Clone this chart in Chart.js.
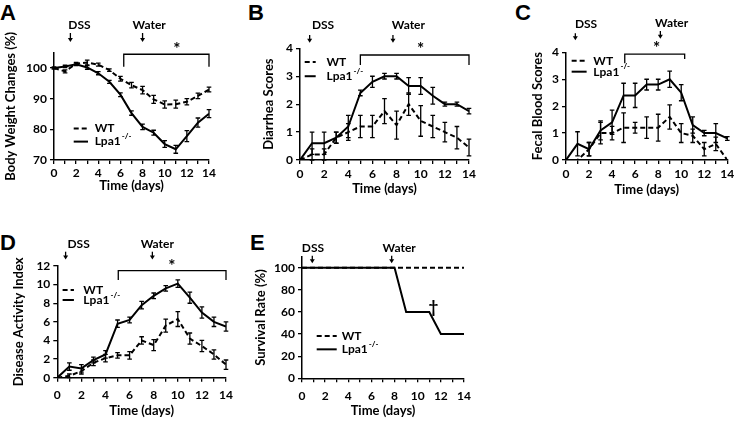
<!DOCTYPE html>
<html>
<head>
<meta charset="utf-8">
<script src="https://cdn.jsdelivr.net/npm/chart.js@4.4.1/dist/chart.umd.min.js"></script>
<style>
  html, body { margin: 0; padding: 0; background: #fff; width: 738px; height: 421px; overflow: hidden; position: relative; }
  canvas { position: absolute; }
  .tag { position: absolute; font: bold 22px "Liberation Sans", Arial, sans-serif; line-height: 22px; color: #000; }
</style>
</head>
<body>
<div class="tag" style="left:0px;top:2px">A</div>
<div class="tag" style="left:248px;top:2px">B</div>
<div class="tag" style="left:515px;top:2px">C</div>
<div class="tag" style="left:0px;top:232px">D</div>
<div class="tag" style="left:250px;top:232px">E</div>

<canvas id="panelA" width="225" height="197" style="left:0px;top:0px"></canvas>
<canvas id="panelB" width="227" height="200" style="left:258px;top:0px"></canvas>
<canvas id="panelC" width="211" height="201" style="left:527px;top:0px"></canvas>
<canvas id="panelD" width="234" height="212" style="left:8px;top:210px"></canvas>
<canvas id="panelE" width="230" height="212" style="left:250px;top:210px"></canvas>

<script>
// days of the experiment
const days = [0, 1, 2, 3, 4, 5, 6, 7, 8, 9, 10, 11, 12, 13, 14];

// A - body weight changes (%)
const wtWeight     = [100, 98.9, 101.4, 101.8, 101.1, 99.3, 96.5, 94.4, 92.8, 89.8, 88.1, 88.2, 89.0, 90.9, 93.0];
const wtWeightErr  = [0.3, 0.5, 0.4, 0.8, 0.5, 0.4, 0.8, 0.9, 1.2, 1.3, 1.2, 1.3, 1.0, 0.9, 0.8];
const lpaWeight    = [100, 100.5, 101.2, 100.2, 98.3, 95.5, 91.3, 85.3, 80.8, 78.9, 75.2, 73.5, 77.8, 82.2, 85.1];
const lpaWeightErr = [0.3, 0.4, 0.4, 0.6, 0.5, 0.5, 0.6, 0.7, 0.9, 0.8, 1.1, 1.3, 1.8, 1.5, 1.3];

// B - diarrhea scores
const wtDiarrhea     = [0, 0.2, 0.2, 0.8, 1.0, 1.2, 1.2, 1.75, 1.25, 2.0, 1.4, 1.2, 1.0, 0.8, 0.45];
const wtDiarrheaErr  = [0, 0.2, 0.2, 0.2, 0.3, 0.4, 0.4, 0.45, 0.5, 0.4, 0.55, 0.4, 0.35, 0.4, 0.3];
const lpaDiarrhea    = [0, 0.6, 0.6, 0.8, 1.2, 2.4, 2.8, 3.0, 3.0, 2.65, 2.65, 2.3, 2.0, 2.0, 1.75];
const lpaDiarrheaErr = [0, 0.4, 0.4, 0.2, 0.4, 0.1, 0.2, 0.1, 0.1, 0.3, 0.3, 0.3, 0.07, 0.07, 0.1];

// C - fecal blood scores
const wtBlood     = [0, 0, 0.4, 1.0, 1.0, 1.2, 1.2, 1.2, 1.2, 1.6, 1.0, 0.9, 0.4, 0.6, 0];
const wtBloodErr  = [0, 0, 0.25, 0.4, 0.25, 0.55, 0.2, 0.4, 0.5, 0.45, 0.35, 0.25, 0.25, 0.25, 0];
const lpaBlood    = [0, 0.6, 0.4, 1.1, 1.4, 2.4, 2.4, 2.8, 2.8, 3.0, 2.5, 1.3, 1.0, 1.0, 0.8];
const lpaBloodErr = [0, 0.45, 0.25, 0.35, 0.45, 0.45, 0.45, 0.2, 0.2, 0.3, 0.3, 0.3, 0.1, 0.35, 0.07];

// D - disease activity index
const wtDai     = [0, 0.2, 0.7, 1.6, 2.1, 2.4, 2.4, 4.0, 3.5, 5.6, 6.3, 4.2, 3.4, 2.5, 1.4];
const wtDaiErr  = [0, 0.2, 0.3, 0.3, 0.4, 0.3, 0.4, 0.4, 0.6, 0.7, 0.8, 0.6, 0.6, 0.5, 0.5];
const lpaDai    = [0, 1.2, 1.0, 1.9, 2.5, 5.8, 6.2, 7.8, 8.8, 9.6, 10.1, 8.6, 7.0, 6.0, 5.5];
const lpaDaiErr = [0, 0.4, 0.4, 0.3, 0.4, 0.4, 0.3, 0.4, 0.3, 0.3, 0.4, 0.6, 0.6, 0.5, 0.5];

// E - survival rate (%)
const wtSurvival  = [100, 100, 100, 100, 100, 100, 100, 100, 100, 100, 100, 100, 100, 100, 100];
const lpaSurvival = [100, 100, 100, 100, 100, 100, 100, 100, 100, 60, 60, 60, 40, 40, 40];

const FONT = 'Lato, "Open Sans", sans-serif';
const DASH = [5, 3];

function drawArrow(ctx, x, y1, y2) {
  ctx.beginPath();
  ctx.moveTo(x, y1);
  ctx.lineTo(x, y2 - 3);
  ctx.stroke();
  ctx.beginPath();
  ctx.moveTo(x - 2.5, y2 - 4);
  ctx.lineTo(x + 2.5, y2 - 4);
  ctx.lineTo(x, y2);
  ctx.closePath();
  ctx.fill();
}

function makePanel(id, p) {
  const decor = {
    id: 'decor',
    afterDatasetsDraw(chart) {
      const { ctx, scales: { x, y } } = chart;
      ctx.save();
      ctx.strokeStyle = '#000';
      ctx.lineWidth = 1.3;
      (p.errors || []).forEach(s => {
        s.mean.forEach((m, i) => {
          const e = s.err[i];
          if (!e) return;
          const px = x.getPixelForValue(days[i]);
          const t = y.getPixelForValue(m + e);
          const b = y.getPixelForValue(m - e);
          ctx.beginPath();
          ctx.moveTo(px, t); ctx.lineTo(px, b);
          ctx.moveTo(px - 2.3, t); ctx.lineTo(px + 2.3, t);
          ctx.moveTo(px - 2.3, b); ctx.lineTo(px + 2.3, b);
          ctx.stroke();
        });
      });
      ctx.restore();
    },
    afterDraw(chart) {
      const { ctx, chartArea, scales: { x, y } } = chart;
      ctx.save();
      ctx.fillStyle = '#000';
      ctx.strokeStyle = '#000';
      ctx.lineWidth = 1.3;

      // treatment arrows
      ctx.font = 'bold 12px ' + FONT;
      ctx.textAlign = 'center';
      ctx.textBaseline = 'middle';
      p.arrows.forEach(a => {
        ctx.fillText(a.label, x.getPixelForValue(a.textX), chartArea.top + a.textY);
        drawArrow(ctx, x.getPixelForValue(a.x), chartArea.top + a.y1, chartArea.top + a.y2);
      });

      // significance bracket
      if (p.bracket) {
        const b = p.bracket;
        const x1 = x.getPixelForValue(b.from), x2 = x.getPixelForValue(b.to);
        ctx.beginPath();
        ctx.moveTo(x1, y.getPixelForValue(b.leftEnd));
        ctx.lineTo(x1, y.getPixelForValue(b.level));
        ctx.lineTo(x2, y.getPixelForValue(b.level));
        ctx.lineTo(x2, y.getPixelForValue(b.rightEnd));
        ctx.stroke();
      }
      if (p.mark) {
        ctx.font = 'bold 17px ' + FONT;
        ctx.fillText(p.mark.text, x.getPixelForValue(p.mark.x), y.getPixelForValue(p.mark.y) + 3);
      }

      // legend
      const L = p.legend;
      const lx1 = x.getPixelForValue(L.x1), lx2 = x.getPixelForValue(L.x2), tx = x.getPixelForValue(L.textX);
      const wy = y.getPixelForValue(L.wtY), ly = y.getPixelForValue(L.lpaY);
      ctx.lineWidth = 2;
      ctx.setLineDash(DASH);
      ctx.beginPath(); ctx.moveTo(lx1, wy); ctx.lineTo(lx2, wy); ctx.stroke();
      ctx.setLineDash([]);
      ctx.beginPath(); ctx.moveTo(lx1, ly); ctx.lineTo(lx2, ly); ctx.stroke();
      ctx.textAlign = 'left';
      ctx.font = 'bold 12px ' + FONT;
      ctx.fillText('WT', tx, wy);
      ctx.fillText('Lpa1', tx, ly);
      const w = ctx.measureText('Lpa1').width;
      ctx.font = 'bold 8px ' + FONT;
      ctx.fillText('-/-', tx + w + 1, ly - 5);
      ctx.restore();
    }
  };

  new Chart(document.getElementById(id), {
    type: 'line',
    data: {
      labels: days,
      datasets: [
        { data: days.map((d, i) => ({ x: d, y: p.wt[i] })), borderColor: '#000', borderWidth: 2, borderDash: DASH, pointRadius: 0, tension: 0 },
        { data: days.map((d, i) => ({ x: d, y: p.lpa[i] })), borderColor: '#000', borderWidth: 2, pointRadius: 0, tension: 0 }
      ]
    },
    options: {
      responsive: false,
      animation: false,
      events: [],
      layout: { padding: { top: p.padTop, right: p.padRight, left: 0, bottom: 0 } },
      plugins: { legend: { display: false }, tooltip: { enabled: false } },
      scales: {
        x: {
          type: 'linear', min: 0, max: 14,
          border: { color: '#000', width: 1.5 },
          grid: { drawOnChartArea: false, color: '#000', lineWidth: 1.3, tickLength: 4 },
          ticks: {
            stepSize: 1, autoSkip: false, maxRotation: 0, padding: p.xTickPad, color: '#000',
            font: { family: FONT, weight: 'bold', size: 12 },
            callback: v => (v % 2 === 0 ? String(v) : '')
          },
          title: { display: true, text: 'Time (days)', color: '#000', font: { family: FONT, weight: 'bold', size: 13 }, padding: { top: 0, bottom: 3 } },
          afterFit: s => { s.height = p.xHeight; }
        },
        y: {
          min: p.yMin, max: p.yMax,
          border: { color: '#000', width: 1.5 },
          grid: { drawOnChartArea: false, color: '#000', lineWidth: 1.3, tickLength: 4 },
          ticks: { stepSize: p.yStep, includeBounds: false, padding: 3, color: '#000', font: { family: FONT, weight: 'bold', size: 12 } },
          afterBuildTicks: s => { s.ticks = s.ticks.filter(t => t.value <= p.yTickMax); },
          title: { display: true, text: p.yTitle, color: '#000', font: { family: FONT, weight: 'bold', size: 13 }, padding: { top: 3, bottom: 0 } },
          afterFit: s => { s.width = p.yWidth; }
        }
      }
    },
    plugins: [decor]
  });
}

makePanel('panelA', {
  wt: wtWeight, lpa: lpaWeight,
  errors: [{ mean: wtWeight, err: wtWeightErr }, { mean: lpaWeight, err: lpaWeightErr }],
  yMin: 70, yMax: 105, yStep: 10, yTickMax: 100, yTitle: 'Body Weight Changes (%)',
  yWidth: 54, xHeight: 37, padTop: 52.7, padRight: 16, xTickPad: 2,
  arrows: [
    { label: 'DSS', x: 1.48, textX: 2.3, textY: -27.7, y1: -19.7, y2: -10.7 },
    { label: 'Water', x: 8.0, textX: 8.6, textY: -27.7, y1: -19.7, y2: -10.7 }
  ],
  bracket: { from: 6.3, to: 14, level: 104.5, leftEnd: 100.4, rightEnd: 100.4 },
  mark: { text: '*', x: 11.1, y: 106.9 },
  legend: { x1: 1.78, x2: 3.07, textX: 3.67, wtY: 80.3, lpaY: 76.0 }
});

makePanel('panelB', {
  wt: wtDiarrhea, lpa: lpaDiarrhea,
  errors: [{ mean: wtDiarrhea, err: wtDiarrheaErr }, { mean: lpaDiarrhea, err: lpaDiarrheaErr }],
  yMin: 0, yMax: 4, yStep: 1, yTickMax: 4, yTitle: 'Diarrhea Scores',
  yWidth: 42, xHeight: 40, padTop: 48.3, padRight: 16, xTickPad: 3,
  arrows: [
    { label: 'DSS', x: 0.8, textX: 1.91, textY: -23.3, y1: -13.3, y2: -5.5 },
    { label: 'Water', x: 7.7, textX: 8.98, textY: -23.3, y1: -13.3, y2: -5.5 }
  ],
  bracket: { from: 5, to: 14, level: 3.76, leftEnd: 3.40, rightEnd: 3.40 },
  mark: { text: '*', x: 10.0, y: 4.06 },
  legend: { x1: 0.39, x2: 1.3, textX: 2.19, wtY: 3.51, lpaY: 3.0 }
});

makePanel('panelC', {
  wt: wtBlood, lpa: lpaBlood,
  errors: [{ mean: wtBlood, err: wtBloodErr }, { mean: lpaBlood, err: lpaBloodErr }],
  yMin: 0, yMax: 4, yStep: 1, yTickMax: 4, yTitle: 'Fecal Blood Scores',
  yWidth: 39, xHeight: 41, padTop: 52.3, padRight: 10.7, xTickPad: 3,
  arrows: [
    { label: 'DSS', x: 0.81, textX: 1.74, textY: -28.3, y1: -19, y2: -12 },
    { label: 'Water', x: 8.19, textX: 9.17, textY: -29, y1: -21.3, y2: -13.5 }
  ],
  bracket: { from: 5.1, to: 10.3, level: 3.93, leftEnd: 3.59, rightEnd: 3.75 },
  mark: { text: '*', x: 7.87, y: 4.27 },
  legend: { x1: 0.49, x2: 1.79, textX: 2.37, wtY: 3.69, lpaY: 3.28 }
});

makePanel('panelD', {
  wt: wtDai, lpa: lpaDai,
  errors: [{ mean: wtDai, err: wtDaiErr }, { mean: lpaDai, err: lpaDaiErr }],
  yMin: 0, yMax: 12, yStep: 2, yTickMax: 12, yTitle: 'Disease Activity Index',
  yWidth: 49.3, xHeight: 44.3, padTop: 56, padRight: 16, xTickPad: 6.5,
  arrows: [
    { label: 'DSS', x: 0.69, textX: 1.77, textY: -21.7, y1: -14.3, y2: -6.5 },
    { label: 'Water', x: 7.89, textX: 8.3, textY: -21.7, y1: -14.3, y2: -6.5 }
  ],
  bracket: { from: 5.06, to: 14, level: 11.5, leftEnd: 10.5, rightEnd: 10.5 },
  mark: { text: '*', x: 9.5, y: 12.28 },
  legend: { x1: 0.44, x2: 1.38, textX: 2.16, wtY: 9.42, lpaY: 8.35 }
});

makePanel('panelE', {
  wt: wtSurvival, lpa: lpaSurvival,
  errors: [],
  yMin: 0, yMax: 110, yStep: 20, yTickMax: 100, yTitle: 'Survival Rate (%)',
  yWidth: 52, xHeight: 43.7, padTop: 46.7, padRight: 16, xTickPad: 6.5,
  arrows: [
    { label: 'DSS', x: 0.89, textX: 0.95, textY: -8.4, y1: -1, y2: 6.5 },
    { label: 'Water', x: 7.75, textX: 8.4, textY: -8.4, y1: -1, y2: 6.5 }
  ],
  bracket: null,
  mark: { text: '†', x: 11.35, y: 66.8 },
  legend: { x1: 1.27, x2: 3.0, textX: 3.43, wtY: 38.2, lpaY: 26.2 }
});
</script>
</body>
</html>
